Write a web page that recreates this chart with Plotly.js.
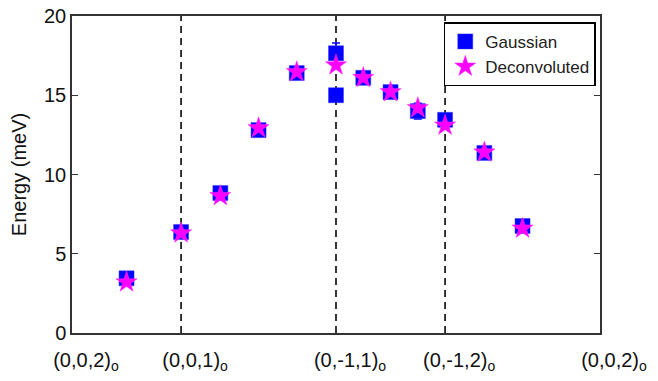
<!DOCTYPE html>
<html>
<head>
<meta charset="utf-8">
<script src="https://cdn.plot.ly/plotly-3.0.1.min.js"></script>
<style>
  html, body { margin: 0; padding: 0; background: #fff; }
  #myDiv { width: 658px; height: 381px; }
</style>
</head>
<body>
<div id="myDiv"></div>
<script>
// path positions along the Q-cut (in units of the (0,0,2)->(0,0,1) segment)
var pathTicks = [0, 1, 2.42, 3.42, 4.84];
var pathLabels = ['(0,0,2)<sub>o</sub>', '(0,0,1)<sub>o</sub>', '(0,-1,1)<sub>o</sub>', '(0,-1,2)<sub>o</sub>', '(0,0,2)<sub>o</sub>'];

// Gaussian fit energies (two values at (0,-1,1))
var gaussQ   = [0.5, 1.0, 1.36, 1.71, 2.06, 2.42, 2.42, 2.67, 2.92, 3.17, 3.42, 3.78, 4.13];
var gaussE   = [3.45, 6.37, 8.83, 12.8, 16.4, 17.65, 15.0, 16.1, 15.2, 14.0, 13.45, 11.36, 6.75];
var gaussErr = [0.2, 0.2, 0.2, 0.2, 0.2, 0.65, 0.2, 0.2, 0.2, 0.5, 0.2, 0.2, 0.2];

// deconvoluted energies
var deconvQ = [0.5, 1.0, 1.36, 1.71, 2.06, 2.42, 2.67, 2.92, 3.17, 3.42, 3.78, 4.13];
var deconvE = [3.2, 6.3, 8.65, 12.93, 16.47, 16.9, 16.1, 15.2, 14.2, 13.1, 11.4, 6.6];

var trace1 = {
  x: gaussQ,
  y: gaussE,
  mode: 'markers',
  type: 'scatter',
  name: 'Gaussian',
  marker: { symbol: 'square', size: 15, color: '#0000ff', line: { width: 0.5, color: '#3333ff' } },
  error_y: { type: 'data', array: gaussErr, visible: true, color: '#0000ff', thickness: 1.5, width: 4 }
};

var trace2 = {
  x: deconvQ,
  y: deconvE,
  mode: 'markers',
  type: 'scatter',
  name: 'Deconvoluted',
  marker: { symbol: 'star', size: 16, color: '#ff00ff', line: { width: 0.5, color: '#ff33ff' } }
};

// dashed guide lines at the inner zone-boundary points
var shapes = [];
for (var i = 1; i < pathTicks.length - 1; i++) {
  shapes.push({
    type: 'line', xref: 'x', yref: 'paper',
    x0: pathTicks[i], x1: pathTicks[i], y0: 0, y1: 1,
    line: { color: '#222', width: 1.8, dash: '7px,5px' },
    layer: 'below'
  });
}

var fam = 'Liberation Sans, Arial, sans-serif';

var layout = {
  width: 658,
  height: 381,
  margin: { l: 72, r: 58, t: 16, b: 48 },
  paper_bgcolor: '#fff',
  plot_bgcolor: '#fff',
  font: { family: fam, color: '#000', size: 18 },
  showlegend: true,
  legend: {
    x: 0.992, y: 0.98, xanchor: 'right', yanchor: 'top',
    bgcolor: '#fff', bordercolor: '#000', borderwidth: 1.5,
    font: { family: fam, size: 17, color: '#222' },
    itemwidth: 30,
    tracegroupgap: 0
  },
  xaxis: {
    range: [pathTicks[0], pathTicks[pathTicks.length - 1]],
    tickmode: 'array',
    tickvals: pathTicks,
    ticktext: pathLabels,
    ticks: '',
    ticklabelshift: 14,
    ticklabelstandoff: 8,
    showgrid: false,
    zeroline: false,
    showline: true,
    linecolor: '#333',
    linewidth: 1.5,
    mirror: true,
    tickfont: { family: fam, size: 20, color: '#111' }
  },
  yaxis: {
    range: [0, 20],
    tickvals: [0, 5, 10, 15, 20],
    ticks: 'inside',
    ticklen: 6,
    tickwidth: 1.2,
    tickcolor: '#333',
    showgrid: false,
    zeroline: false,
    showline: true,
    linecolor: '#333',
    linewidth: 1.5,
    mirror: 'ticks',
    tickfont: { family: fam, size: 20, color: '#111' },
    title: { text: 'Energy (meV)', font: { family: fam, size: 20, color: '#111' }, standoff: 12 }
  },
  shapes: shapes
};

Plotly.newPlot('myDiv', [trace1, trace2], layout, { displayModeBar: false });
</script>
</body>
</html>
